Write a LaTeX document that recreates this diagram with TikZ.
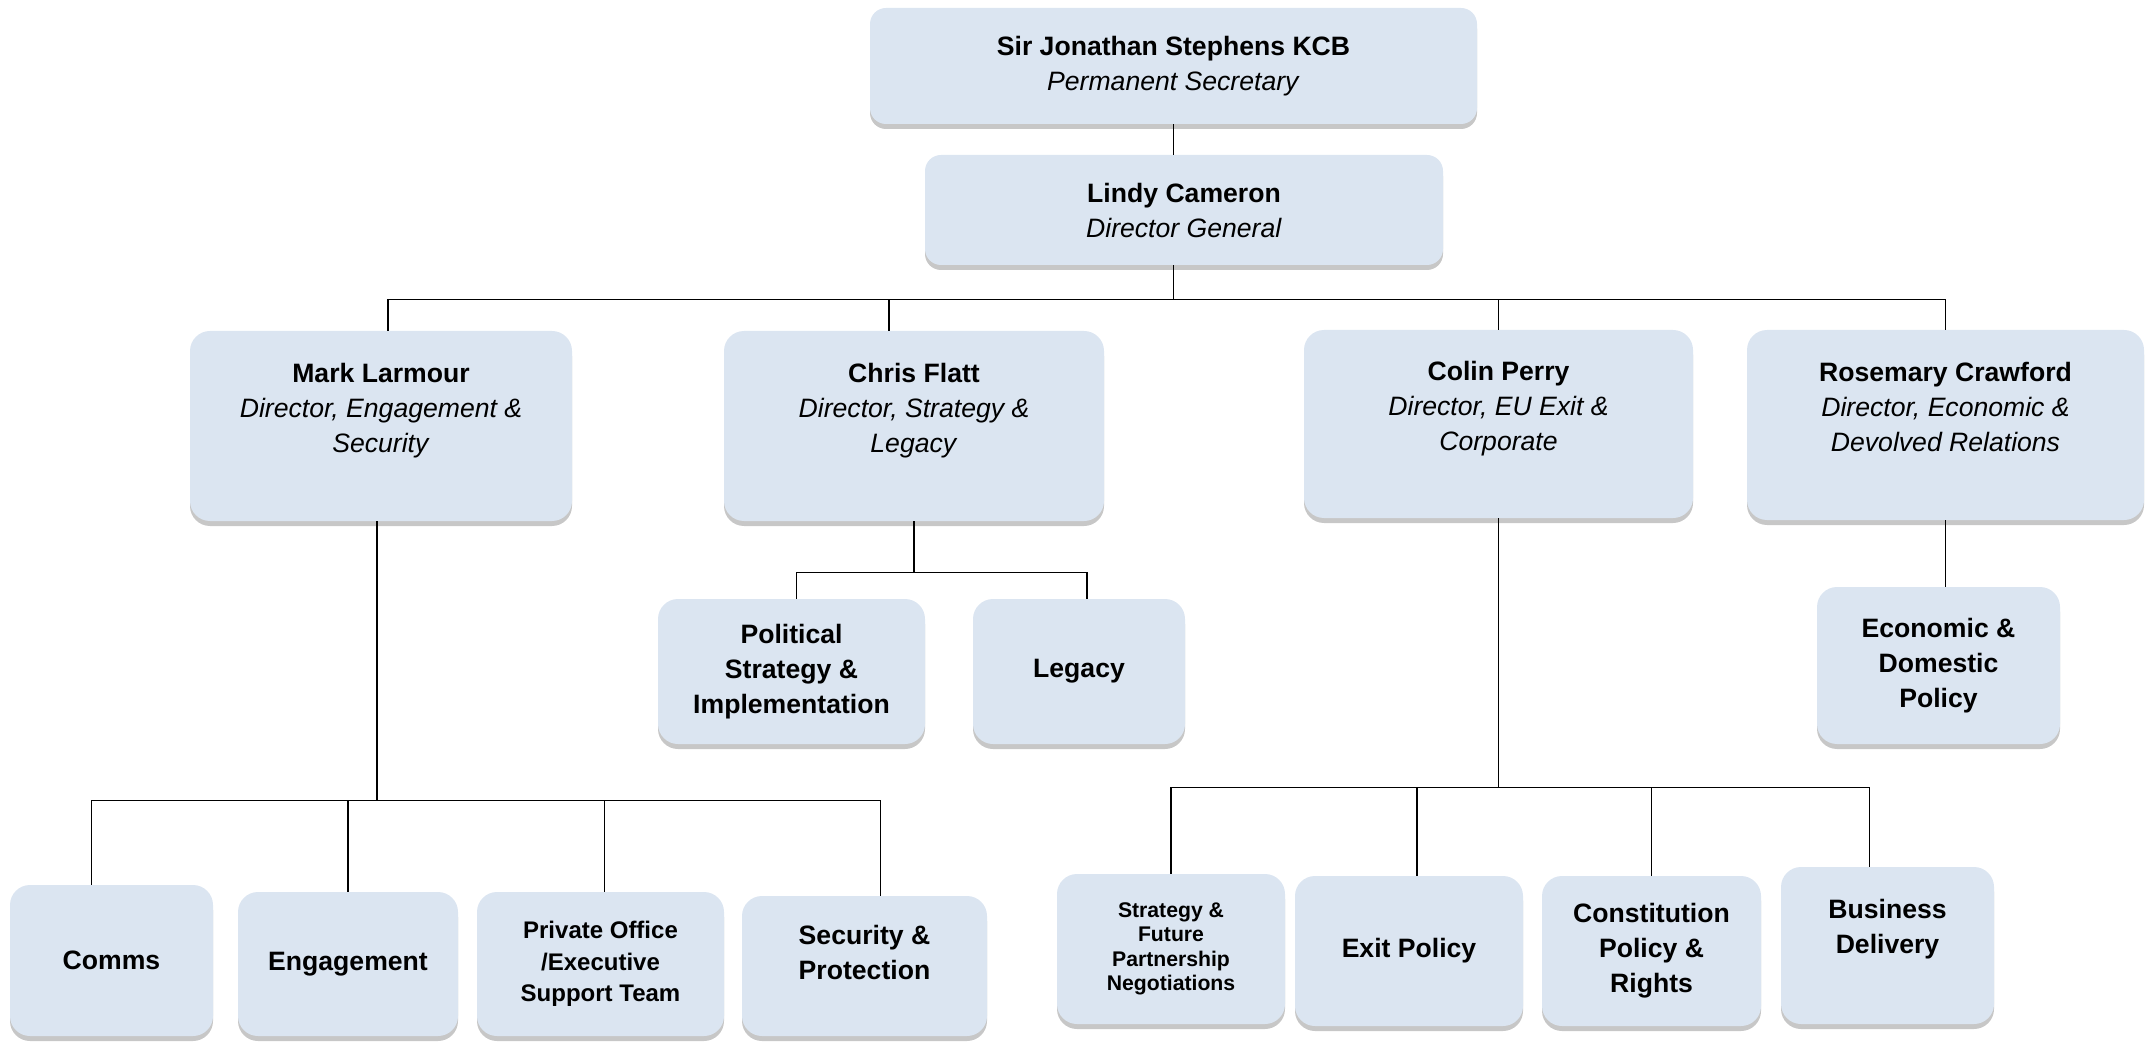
\documentclass[tikz,border=0pt]{standalone}
\usepackage{fontspec}
\setmainfont{Liberation Sans}
\usepackage{tikz}
\usetikzlibrary{shadows,positioning}
\definecolor{boxfill}{HTML}{DBE5F1}

\begin{document}
\begin{tikzpicture}[x=0.5pt, y=-0.5pt]
            \tikzstyle{unit} = [fill=boxfill, rounded corners=10pt, align=center, inner sep=2pt, font=\fontsize{13.3}{17.5}\selectfont, drop shadow={shadow xshift=0pt, shadow yshift=-2.5pt, fill=black!22, opacity=1}]
            \tikzstyle{team} = [unit, font=\fontsize{13.3}{17.5}\selectfont\bfseries]
            \tikzstyle{link} = [line width=0.8pt]
            \useasboundingbox (0,0) rectangle (2155,1042);

            \node[unit, minimum width=303.5pt, minimum height=58pt, rounded corners=8pt](permsec) at (1173.5,66){\textbf{Sir Jonathan Stephens KCB}\\\textit{Permanent Secretary}};
            \node[unit, minimum width=259pt, minimum height=55pt, rounded corners=8pt](dg) at (1184,210){\textbf{Lindy Cameron}\\\textit{Director General}};

            \node[unit, minimum width=191pt, minimum height=95pt](mark) at (381,426){\textbf{Mark Larmour}\\\textit{Director, Engagement \&}\\\textit{Security}\\[1pt]\mbox{}};
            \node[unit, minimum width=190pt, minimum height=95pt](chris) at (914,426){\textbf{Chris Flatt}\\\textit{Director, Strategy \&}\\\textit{Legacy}\\[1pt]\mbox{}};
            \node[unit, minimum width=194.5pt, minimum height=94pt](colin) at (1498.5,424){\textbf{Colin Perry}\\\textit{Director, EU Exit \&}\\\textit{Corporate}\\[1pt]\mbox{}};
            \node[unit, minimum width=198.5pt, minimum height=95pt](rosemary) at (1945.5,425){\textbf{Rosemary Crawford}\\\textit{Director, Economic \&}\\\textit{Devolved Relations}\\[1pt]\mbox{}};

            \node[team, minimum width=133.5pt, minimum height=72.5pt](political) at (791.5,671.5){Political\\Strategy \&\\Implementation};
            \node[team, minimum width=106pt, minimum height=72.5pt](legacy) at (1079,671.5){Legacy};
            \node[team, minimum width=121.5pt, minimum height=78.5pt](econ) at (1938.5,665.5){Economic \&\\Domestic\\Policy};

            \node[team, minimum width=101.5pt, minimum height=75.5pt](comms) at (111.5,960.5){Comms};
            \node[team, minimum width=110pt, minimum height=72pt](engage) at (348,964){Engagement};
            \node[team, minimum width=123.5pt, minimum height=72pt, font=\fontsize{12}{15.8}\selectfont\bfseries](privoff) at (600.5,964){Private Office\\/Executive\\Support Team};
            \node[team, minimum width=122.5pt, minimum height=70pt](security) at (864.5,966){Security \&\\Protection\\[-4pt]\mbox{}};

            \node[team, minimum width=114pt, minimum height=75pt, font=\fontsize{10.6}{12.2}\selectfont\bfseries](sfp) at (1171,949){Strategy \&\\Future\\Partnership\\Negotiations};
            \node[team, minimum width=114pt, minimum height=75pt](exitp) at (1409,951){Exit Policy};
            \node[team, minimum width=109.5pt, minimum height=75pt](constit) at (1651.5,951){Constitution\\Policy \&\\Rights};
            \node[team, minimum width=106.5pt, minimum height=78.5pt](busdel) at (1887.5,945.5){Business\\Delivery\\[2pt]\mbox{}};

            \draw[link] (permsec.south) -- (permsec.south |- dg.north);
            \draw[link] (dg.south -| permsec.south) -- ++(0,34) -| ([xshift=3.5pt]mark.north);
            \draw[link] (dg.south -| permsec.south) -- ++(0,34) -| ([xshift=-12.5pt]chris.north);
            \draw[link] (dg.south -| permsec.south) -- ++(0,34) -| (colin.north);
            \draw[link] (dg.south -| permsec.south) -- ++(0,34) -| (rosemary.north);

            \draw[link] (chris.south) -- ++(0,51) -| ([xshift=2.5pt]political.north);
            \draw[link] (chris.south) -- ++(0,51) -| ([xshift=4pt]legacy.north);
            \draw[link] (rosemary.south) -- (rosemary.south |- econ.north);

            \draw[link] ([xshift=-2pt]mark.south) -- ++(0,279) -| ([xshift=-10pt]comms.north);
            \draw[link] ([xshift=-2pt]mark.south) -- ++(0,279) -| (engage.north);
            \draw[link] ([xshift=-2pt]mark.south) -- ++(0,279) -| ([xshift=2pt]privoff.north);
            \draw[link] ([xshift=-2pt]mark.south) -- ++(0,279) -| ([xshift=8pt]security.north);

            \draw[link] (colin.south) -- ++(0,269) -| (sfp.north);
            \draw[link] (colin.south) -- ++(0,269) -| ([xshift=4pt]exitp.north);
            \draw[link] (colin.south) -- ++(0,269) -| (constit.north);
            \draw[link] (colin.south) -- ++(0,269) -| ([xshift=-9pt]busdel.north);
\end{tikzpicture}
\end{document}
